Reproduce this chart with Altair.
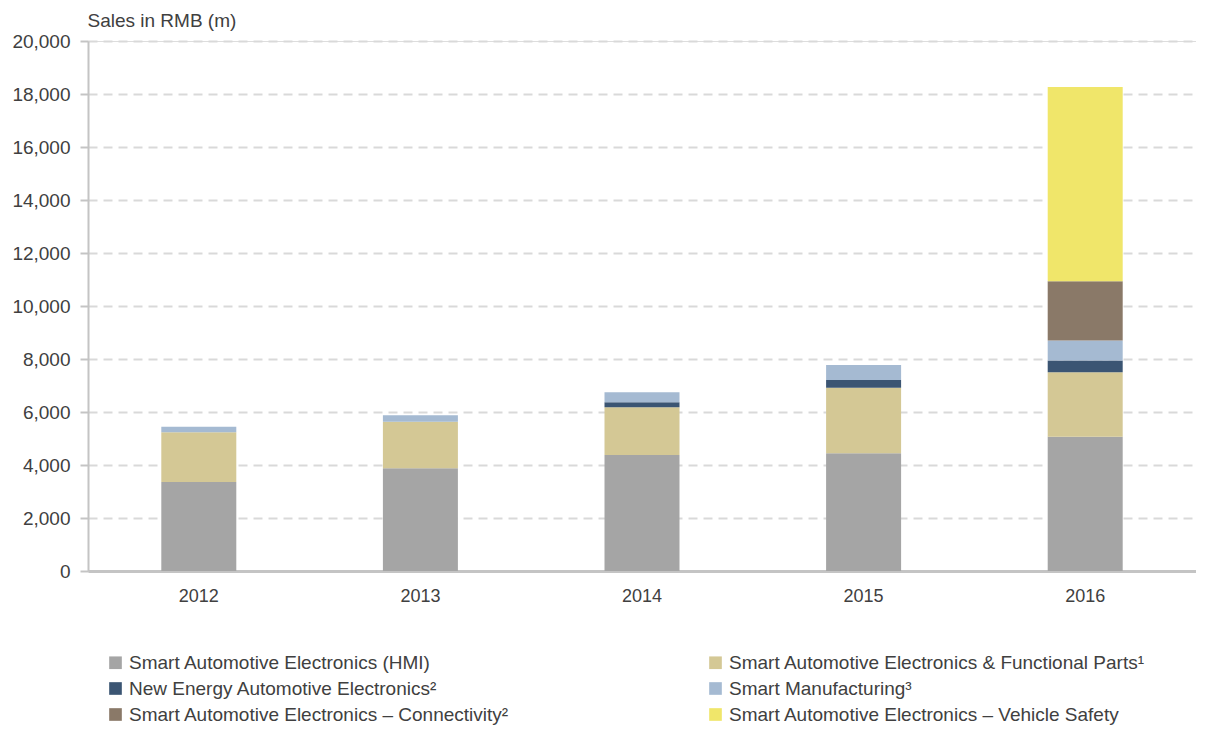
import altair as alt
import pandas as pd

years = ["2012", "2013", "2014", "2015", "2016"]
segments = [
    "Smart Automotive Electronics (HMI)",
    "Smart Automotive Electronics & Functional Parts¹",
    "New Energy Automotive Electronics²",
    "Smart Manufacturing³",
    "Smart Automotive Electronics – Connectivity²",
    "Smart Automotive Electronics – Vehicle Safety",
]
colors = ["#A5A5A5", "#D4C895", "#3B5573", "#A5BAD2", "#8A7968", "#F0E66A"]
# legend fills column by column: left column HMI / New Energy / Connectivity
legend_order = [0, 2, 4, 1, 3, 5]

hmi = [3360, 3875, 4380, 4440, 5070]
functional = [1875, 1760, 1800, 2475, 2430]
new_energy = [0, 0, 190, 290, 440]
manufacturing = [210, 240, 375, 570, 755]
connectivity = [0, 0, 0, 0, 2240]
safety = [0, 0, 0, 0, 7330]

series = [hmi, functional, new_energy, manufacturing, connectivity, safety]
rows = []
for si, (seg, vals) in enumerate(zip(segments, series)):
    for y, v in zip(years, vals):
        if v > 0:
            rows.append({"year": y, "segment": seg, "value": v, "idx": si})
df = pd.DataFrame(rows)

dom = [segments[i] for i in legend_order]
rng = [colors[i] for i in legend_order]

FONT = "Liberation Sans"
TXT = "#404040"

chart = alt.Chart(df).mark_bar(width=75).encode(
    x=alt.X("year:N", sort=years,
            scale=alt.Scale(paddingInner=0, paddingOuter=0),
            axis=alt.Axis(title=None, labelAngle=0, ticks=False, grid=False,
                          domainColor="#C4C4C4", domainWidth=3,
                          labelFontSize=18, labelColor=TXT, labelFont=FONT,
                          labelPadding=16)),
    y=alt.Y("value:Q", stack="zero",
            scale=alt.Scale(domain=[0, 20000], nice=False),
            axis=alt.Axis(title="Sales in RMB (m)", values=list(range(0, 20001, 2000)),
                          format=",d", titleAngle=0, titleAlign="left",
                          titleBaseline="alphabetic", titleX=-1, titleY=-15,
                          titleFont=FONT, titleFontSize=19, titleFontWeight="normal",
                          titleColor=TXT,
                          labelFontSize=19, labelColor=TXT, labelFont=FONT,
                          labelPadding=10, tickSize=8, tickColor="#C4C4C4",
                          tickWidth=2, domainColor="#C4C4C4", domainWidth=2,
                          gridColor="#D9D9D9", gridDash=[9, 6], gridWidth=2)),
    color=alt.Color("segment:N",
                    scale=alt.Scale(domain=dom, range=rng),
                    legend=alt.Legend(title=None, orient="none", legendX=18, legendY=612,
                                      columns=2, columnPadding=196, rowPadding=6,
                                      symbolType="square", symbolSize=160,
                                      symbolStrokeWidth=0, labelFontSize=19,
                                      labelFont=FONT, labelColor=TXT, labelOffset=4,
                                      labelLimit=600, padding=0)),
    order=alt.Order("idx:Q", sort="ascending"),
).properties(
    width=1108, height=530,
    autosize=alt.AutoSizeParams(type="none"),
    padding={"left": 80, "top": 33, "right": 0, "bottom": 155},
).configure_view(stroke=None).configure(background="white")

chart.save("out.html", embed_options={"renderer": "svg", "actions": False})
